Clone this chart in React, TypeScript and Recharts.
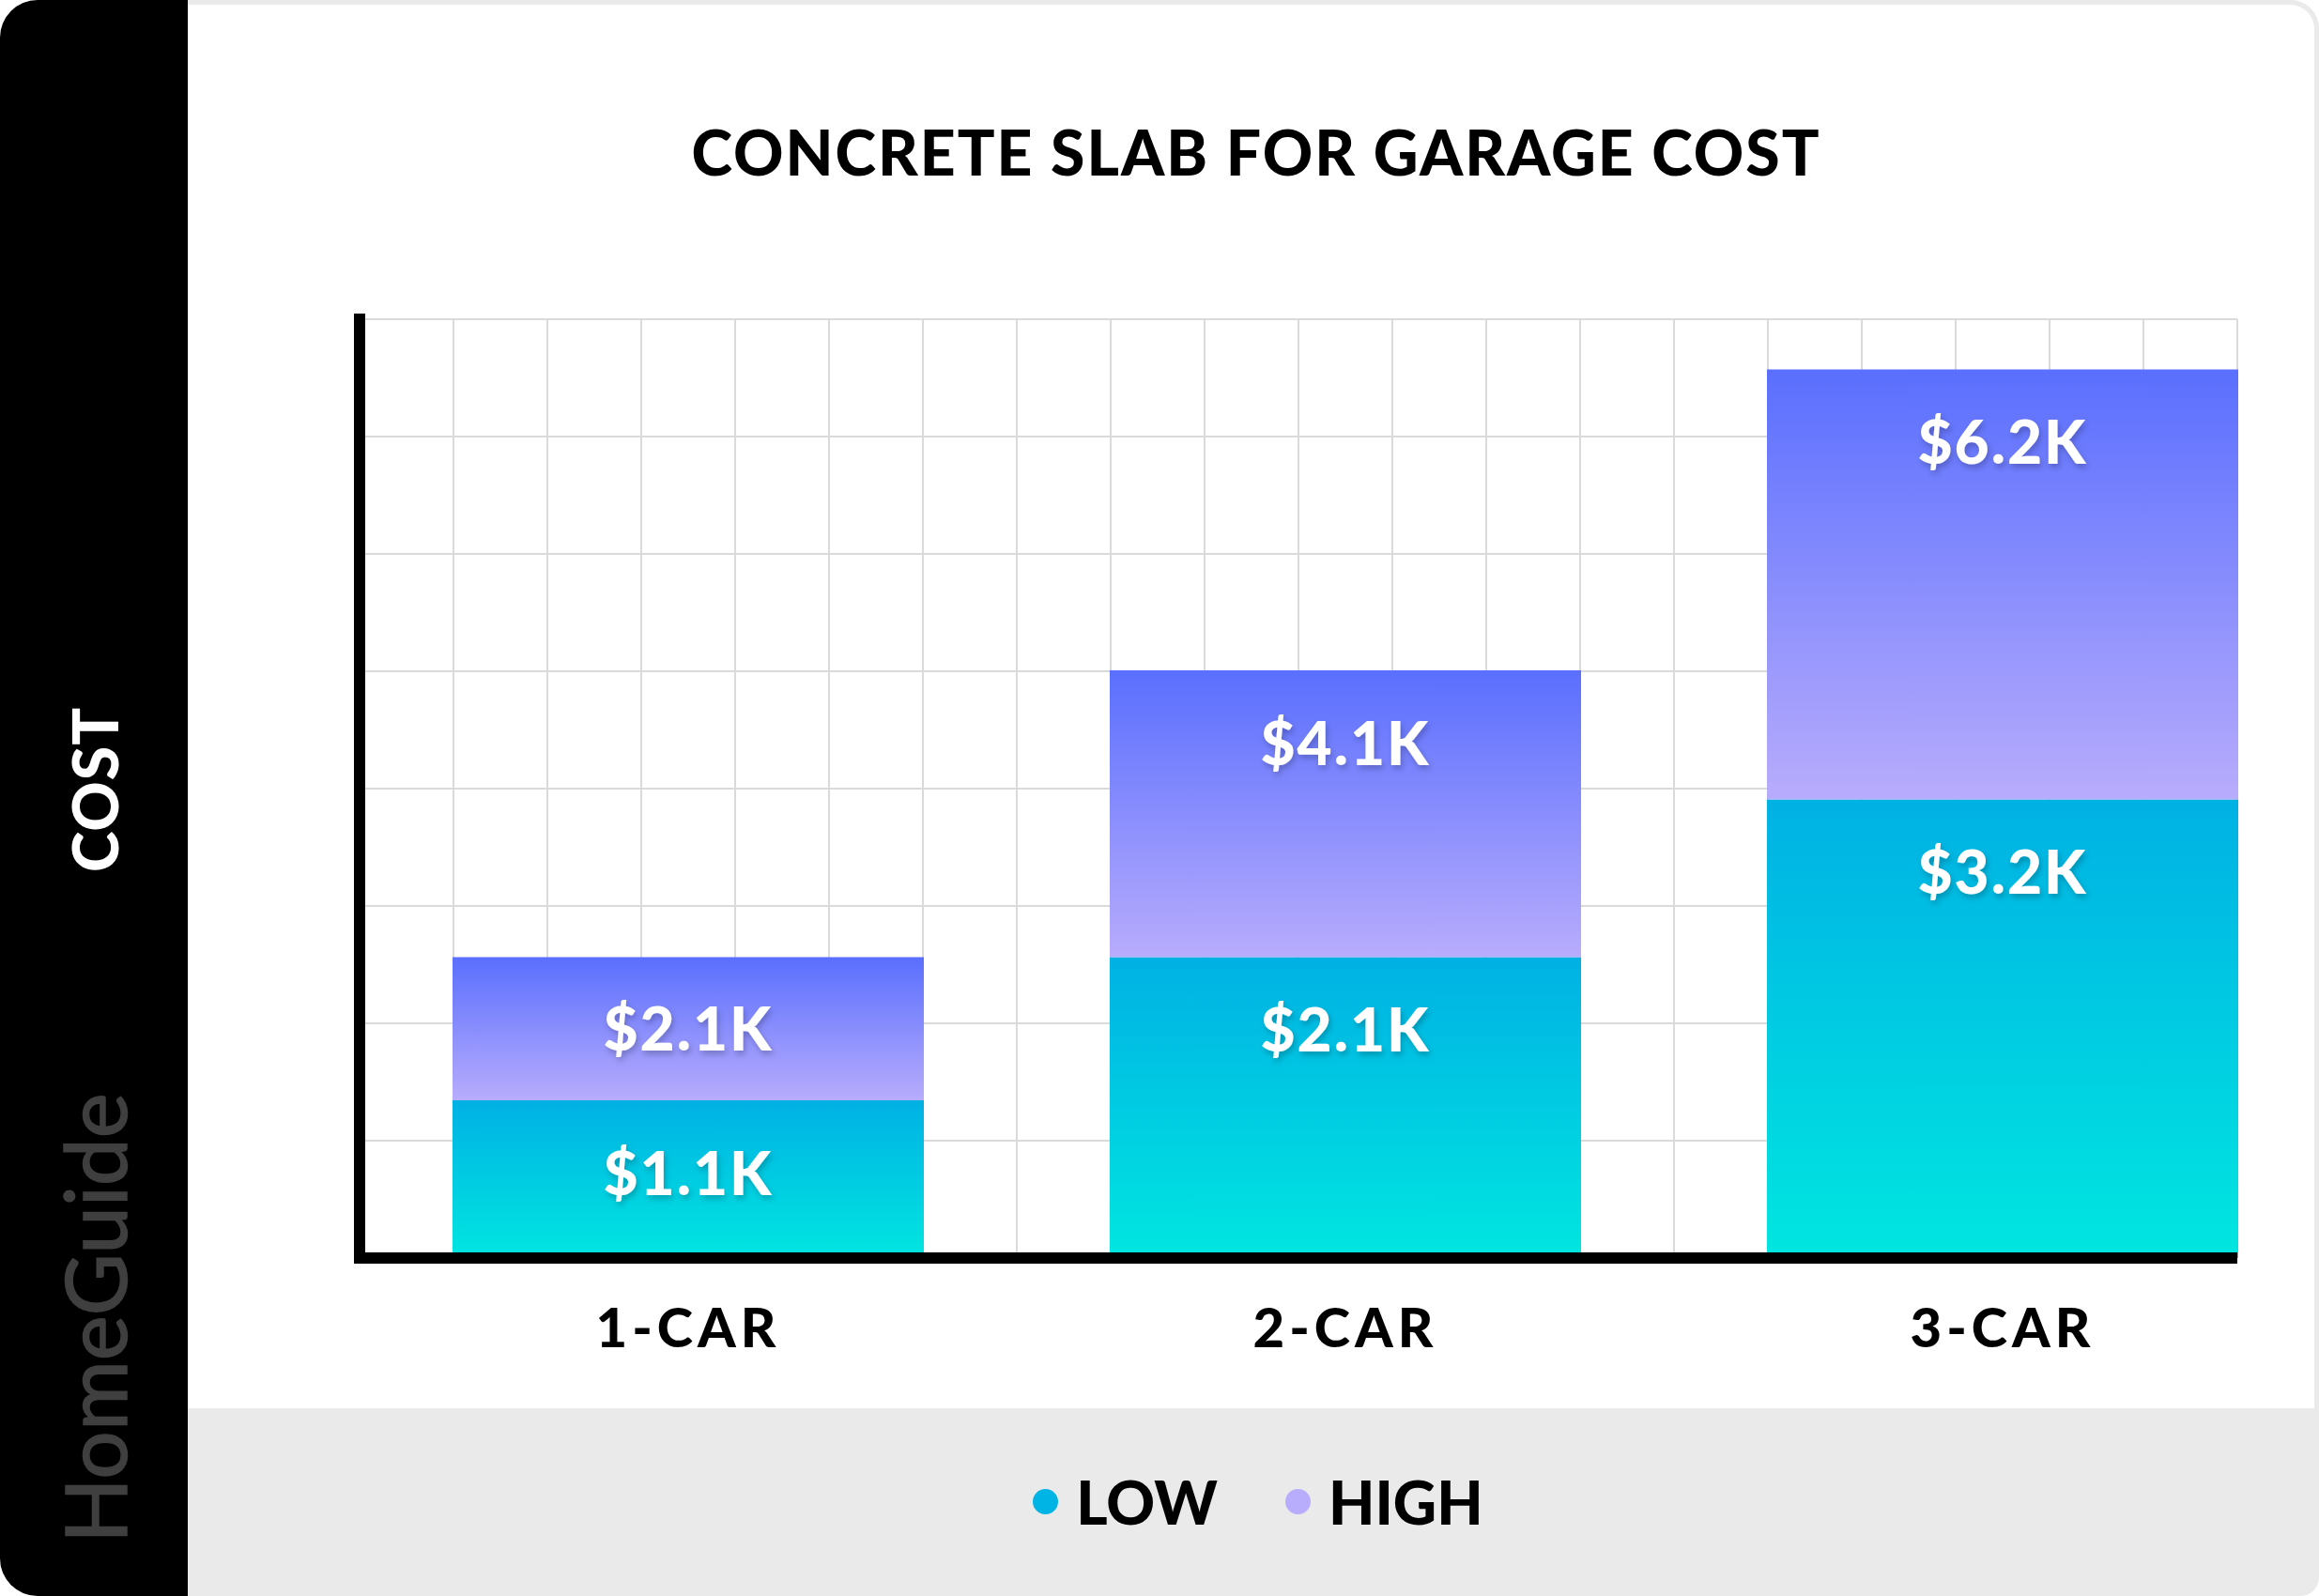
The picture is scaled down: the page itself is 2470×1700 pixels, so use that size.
import React from "react";
import { Bar, BarChart, CartesianGrid, LabelList, XAxis, YAxis } from "recharts";

const categories = ["1-CAR", "2-CAR", "3-CAR"];
const lowCost = [1100, 2100, 3200];
const highCost = [2100, 4100, 6200];
const seriesNames = ["LOW", "HIGH"];
const seriesDots = ["#00b4e6", "#b8adfc"];
const yMax = 6550;

// stacked: low segment + the rise up to the high value
const data = categories.map((name, i) => ({
  name,
  low: lowCost[i],
  rise: highCost[i] - lowCost[i],
  high: highCost[i],
}));

const FONT = "Lato, 'DejaVu Sans', sans-serif";

const fmtK = (v: number) => `$${(v / 1000).toFixed(1)}K`;

const BarValue = (props: any) => {
  const { x, y, width, height, value } = props;
  const cy = y + Math.min(height / 2, 78);
  return (
    <text
      x={x + width / 2}
      y={cy + 23}
      textAnchor="middle"
      fill="#fff"
      fontFamily={FONT}
      fontWeight={900}
      fontSize={64}
      letterSpacing={2}
      filter="url(#txtShadow)"
    >
      {fmtK(value)}
    </text>
  );
};

const CarTick = (props: any) => {
  const { x, y, payload } = props;
  return (
    <text
      x={x}
      y={y + 95}
      textAnchor="middle"
      fill="#000"
      fontFamily={FONT}
      fontWeight={900}
      fontSize={58}
      letterSpacing={5}
    >
      {payload.value}
    </text>
  );
};

const App: React.FC = () => {
  return (
    <div style={{ position: "absolute", left: 0, top: 0, width: 2470, height: 1700, background: "#fff" }}>
      <div
        style={{
          position: "absolute",
          left: 0,
          top: 0,
          width: 2470,
          height: 1700,
          background: "#eaeaea",
          borderRadius: "40px 30px 20px 40px",
          overflow: "hidden",
        }}
      >
        <div style={{ position: "absolute", left: 0, top: 0, width: 200, height: 1700, background: "#000" }} />
        <div
          style={{
            position: "absolute",
            left: 200,
            top: 5,
            width: 2265,
            height: 1495,
            background: "#fff",
            borderTopRightRadius: 26,
          }}
        />
        <div
          style={{
            position: "absolute",
            left: 200,
            top: 1500,
            width: 2280,
            height: 200,
            display: "flex",
            alignItems: "center",
            justifyContent: "center",
            gap: 72,
          }}
        >
          {seriesNames.map((n, i) => (
            <div key={n} style={{ display: "flex", alignItems: "center" }}>
              <span
                style={{
                  width: 27,
                  height: 27,
                  borderRadius: "50%",
                  background: seriesDots[i],
                  marginRight: 19,
                }}
              />
              <span style={{ fontFamily: FONT, fontWeight: 900, fontSize: 64, color: "#000", lineHeight: 1.2 }}>
                {n}
              </span>
            </div>
          ))}
        </div>
      </div>

      <svg width={2470} height={1700} style={{ position: "absolute", left: 0, top: 0 }}>
        <text
          x={1338}
          y={187}
          textAnchor="middle"
          fill="#000"
          fontFamily={FONT}
          fontWeight={900}
          fontSize={66}
          letterSpacing={2}
        >
          CONCRETE SLAB FOR GARAGE COST
        </text>
        <text
          x={126}
          y={841}
          transform="rotate(-90 126 841)"
          textAnchor="middle"
          fill="#fff"
          fontFamily={FONT}
          fontWeight={900}
          fontSize={66}
          letterSpacing={1}
        >
          COST
        </text>
        <text
          x={135}
          y={1404}
          transform="rotate(-90 135 1404)"
          textAnchor="middle"
          fill="#3f3f3f"
          stroke="#3f3f3f"
          strokeWidth={1.5}
          fontFamily={FONT}
          fontWeight={400}
          fontSize={91}
        >
          HomeGuide
        </text>
      </svg>

      <div style={{ position: "absolute", left: 0, top: 0 }}>
        <BarChart
          width={2470}
          height={1700}
          data={data}
          margin={{ top: 340, right: 87, bottom: 240, left: 382 }}
          barSize={502}
        >
          <defs>
            <linearGradient id="gradLow" x1="0" y1="0" x2="0" y2="1">
              <stop offset="0%" stopColor="#00b1e4" />
              <stop offset="100%" stopColor="#00e6e0" />
            </linearGradient>
            <linearGradient id="gradHigh" x1="0" y1="0" x2="0" y2="1">
              <stop offset="0%" stopColor="#5a6ffe" />
              <stop offset="100%" stopColor="#b8acfc" />
            </linearGradient>
            <filter id="txtShadow" x="-20%" y="-20%" width="140%" height="160%">
              <feDropShadow dx="2" dy="4" stdDeviation="3" floodColor="#000" floodOpacity="0.22" />
            </filter>
          </defs>
          <CartesianGrid
            stroke="#dadada"
            strokeWidth={2}
            horizontalCoordinatesGenerator={({ offset }: any) =>
              Array.from({ length: 9 }, (_, i) => offset.top + (offset.height * i) / 8)
            }
            verticalCoordinatesGenerator={({ offset }: any) =>
              Array.from({ length: 21 }, (_, i) => offset.left + (offset.width * i) / 20)
            }
          />
          <Bar dataKey="low" stackId="cost" fill="url(#gradLow)" isAnimationActive={false}>
            <LabelList dataKey="low" content={BarValue} />
          </Bar>
          <Bar dataKey="rise" stackId="cost" fill="url(#gradHigh)" isAnimationActive={false}>
            <LabelList dataKey="high" content={BarValue} />
          </Bar>
          <XAxis
            dataKey="name"
            height={120}
            axisLine={{ stroke: "#000", strokeWidth: 12 }}
            tickLine={false}
            tickSize={0}
            tickMargin={0}
            tick={<CarTick />}
            interval={0}
            padding={{ left: 0, right: -100 }}
          />
          <YAxis
            width={1}
            domain={[0, yMax]}
            tick={false}
            tickLine={false}
            axisLine={{ stroke: "#000", strokeWidth: 12, strokeLinecap: "square" }}
          />
        </BarChart>
      </div>
    </div>
  );
};

export default App;
